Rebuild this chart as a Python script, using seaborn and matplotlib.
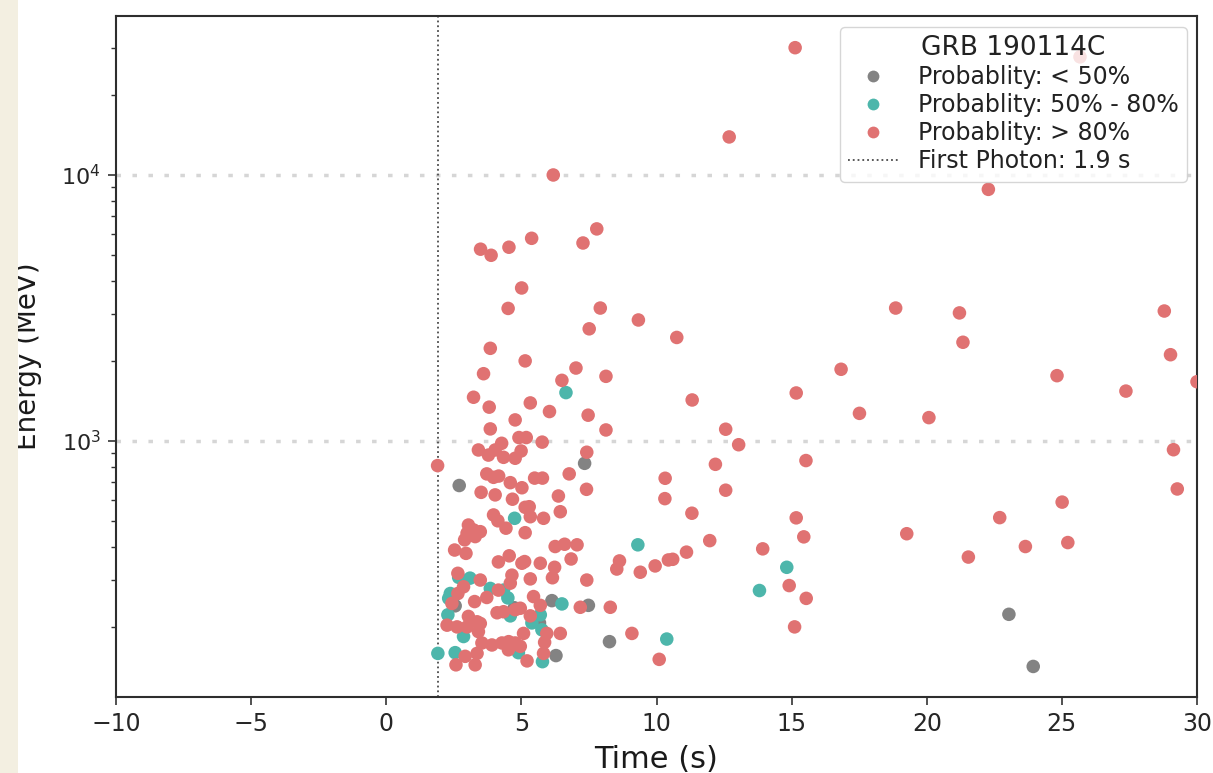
import matplotlib
matplotlib.use("Agg")
import matplotlib.pyplot as plt
from matplotlib.lines import Line2D
from matplotlib.patches import Rectangle
import seaborn as sns
import pandas as pd

# ---------------- data ----------------
categories = ["Probablity: < 50%", "Probablity: 50% - 80%", "Probablity: > 80%"]
colors = ["#838383", "#4db6ab", "#e07272"]

gray_time = [2.70, 7.34, 2.55, 6.13, 7.48, 4.74, 5.67, 8.26, 6.28, 23.04, 23.94]
gray_energy = [680, 824, 240, 251, 241, 236, 207, 176, 156, 223, 142]

teal_time = [6.65, 4.75, 9.31, 14.82, 13.81, 10.38, 2.68, 3.10, 2.37, 2.31, 3.85, 4.34,
             4.50, 2.28, 2.86, 4.59, 5.70, 6.50, 5.39, 5.76, 2.55, 1.91, 4.89, 5.78]
teal_energy = [1520, 512, 407, 335, 274, 180, 307, 305, 267, 256, 279, 275,
               257, 222, 184, 220, 222, 244, 207, 195, 160, 159, 160, 148]

red_time = [15.13, 25.67, 12.69, 6.18, 22.28,
            3.49, 3.88, 4.54, 5.38, 7.28, 7.79, 5.01,
            4.51, 7.92, 9.33, 7.51, 3.85, 5.14, 3.60, 7.02, 8.13, 6.50,
            3.23, 3.81, 5.33, 6.04, 7.47, 4.77, 3.85, 8.13, 4.91, 5.18,
            4.27, 5.77, 3.41, 3.78, 4.03, 4.99, 4.34, 4.77, 7.42, 1.90,
            18.85, 21.21, 28.79, 10.75, 21.34, 29.02, 16.83, 24.82, 27.37, 30.0,
            11.32, 15.17, 17.51, 20.08, 12.56, 13.04, 15.53, 29.13, 29.27, 12.18,
            10.32, 10.31, 12.56, 11.31, 25.01, 22.70, 15.17, 15.45, 19.26, 11.97,
            11.11, 10.60, 9.95, 13.93, 23.65, 25.22, 21.54, 14.91, 15.54, 15.11, 10.10,
            3.72, 3.97, 4.16, 4.59, 5.02, 5.49, 5.78, 6.77, 7.41, 3.51,
            4.03, 4.67, 6.37, 5.14, 5.29, 6.44, 3.97, 4.13, 5.33, 5.82,
            4.43, 5.14, 3.04, 3.23, 3.48, 2.99, 3.29, 2.90, 2.53, 2.95,
            6.25, 6.60, 7.06, 6.84, 4.55, 4.15, 5.02, 5.12, 5.70, 6.23,
            8.63, 8.53, 7.42, 2.65, 3.48, 4.65, 4.59, 5.33, 6.15, 2.86,
            2.65, 2.43, 4.15, 3.72, 3.27, 3.04, 3.36, 2.25, 2.62, 2.99,
            3.48, 3.41, 4.10, 4.34, 4.77, 4.96, 5.33, 5.70, 7.18, 8.29,
            5.45, 5.08, 5.94, 6.44, 5.86, 3.54, 3.91, 4.28, 4.53, 4.77,
            4.96, 3.36, 2.92, 4.52, 5.82, 5.21, 3.29, 2.58, 9.40, 10.44, 9.09]
red_energy = [30100, 27800, 13900, 10000, 8830,
              5260, 4990, 5350, 5780, 5550, 6270, 3760,
              3150, 3160, 2850, 2640, 2230, 2000, 1790, 1880, 1750, 1690,
              1460, 1340, 1390, 1290, 1250, 1200, 1110, 1100, 1030, 1030,
              980, 990, 925, 885, 925, 917, 868, 861, 907, 808,
              3160, 3030, 3080, 2450, 2350, 2110, 1860, 1760, 1540, 1670,
              1426, 1515, 1270, 1224, 1107, 968, 844, 927, 660, 817,
              724, 607, 653, 535, 589, 515, 514, 436, 448, 422,
              382, 359, 339, 393, 401, 415, 366, 286, 256, 200, 151,
              752, 730, 738, 697, 667, 725, 725, 752, 658, 641,
              627, 604, 621, 563, 566, 542, 527, 501, 519, 512,
              470, 452, 483, 463, 456, 450, 437, 425, 389, 378,
              401, 409, 407, 360, 370, 351, 347, 352, 347, 335,
              354, 330, 300, 318, 300, 313, 292, 303, 306, 283,
              267, 245, 275, 258, 249, 219, 209, 203, 200, 200,
              206, 192, 226, 228, 232, 235, 220, 241, 237, 237,
              260, 189, 189, 189, 175, 174, 171, 174, 176, 174,
              169, 159, 155, 164, 159, 149, 144, 144, 321, 357, 189]

first_photon = 1.9
x_ticks = [-10, -5, 0, 5, 10, 15, 20, 25, 30]

# ---------------- build table ----------------
df = pd.concat([
    pd.DataFrame({"Time": gray_time, "Energy": gray_energy, "Class": categories[0]}),
    pd.DataFrame({"Time": teal_time, "Energy": teal_energy, "Class": categories[1]}),
    pd.DataFrame({"Time": red_time, "Energy": red_energy, "Class": categories[2]}),
], ignore_index=True)

# ---------------- style ----------------
sns.set_theme(style="white")
plt.rcParams["font.family"] = ["DejaVu Sans"]
plt.rcParams["mathtext.fontset"] = "dejavusans"

fig = plt.figure(figsize=(12.13, 7.73), dpi=100)
fig.patch.set_facecolor("white")
ax = fig.add_axes([116 / 1213, 1 - 697 / 773, (1197 - 116) / 1213, (697 - 16) / 773])

sns.scatterplot(data=df, x="Time", y="Energy", hue="Class", hue_order=categories,
                palette=colors, s=95, linewidth=0, alpha=1.0, legend=False,
                ax=ax, zorder=3)

ax.set_yscale("log")
ax.set_xlim(-10, 30)
ax.set_ylim(109, 39600)
ax.set_xticks(x_ticks)
ax.set_xticklabels([f"{t}".replace("-", "\u2212") for t in x_ticks])

vline = ax.axvline(first_photon, color="#4a4a4a", linestyle=":", linewidth=1.3,
                   zorder=2, label="First Photon: 1.9 s")

ax.set_axisbelow(True)
ax.yaxis.grid(True, which="major", linestyle=(0, (1.3, 3.3)), color="#d6d6d6", linewidth=2.5)
ax.xaxis.grid(False)

for sp in ax.spines.values():
    sp.set_color("#2e2e2e")
    sp.set_linewidth(1.5)

ax.tick_params(axis="x", which="major", direction="out", length=6, width=1.2,
               color="#333333", labelsize=17, pad=5, bottom=True)
ax.tick_params(axis="y", which="major", direction="out", length=6, width=1.2,
               color="#333333", labelsize=16, pad=5, left=True)
ax.tick_params(axis="y", which="minor", direction="out", length=3.5, width=1.0,
               color="#333333", left=True)

ax.set_xlabel("Time (s)", fontsize=22, color="#1a1a1a", labelpad=6)
ax.set_ylabel("Energy (MeV)", fontsize=20, color="#1a1a1a")
ax.yaxis.set_label_coords(-0.068, 0.5)

handles = [Line2D([], [], marker="o", linestyle="", color=c, markersize=8.5,
                  markeredgewidth=0) for c in colors]
handles.append(Line2D([], [], color="#4a4a4a", linestyle=":", linewidth=1.3))
labels = categories + ["First Photon: 1.9 s"]
leg = ax.legend(handles, labels, title="GRB 190114C", loc="upper right",
                bbox_to_anchor=((1187 - 116) / 1081, (697 - 27) / 681),
                borderaxespad=0, fontsize=17, title_fontsize=19,
                labelspacing=0.17, handlelength=2.1, handletextpad=0.85,
                borderpad=0.35, frameon=True, framealpha=0.8, fancybox=True,
                edgecolor="#cccccc")
leg.get_frame().set_linewidth(1.0)
for t in leg.get_texts():
    t.set_color("#222222")
leg.get_title().set_color("#222222")

# page background strip at left edge (covers part of the y label)
fig.patches.append(Rectangle((0, 0), 18 / 1213, 1, transform=fig.transFigure,
                             facecolor="#f3efe1", edgecolor="none", zorder=10))

fig.savefig("out.png", dpi=100, facecolor="white")
